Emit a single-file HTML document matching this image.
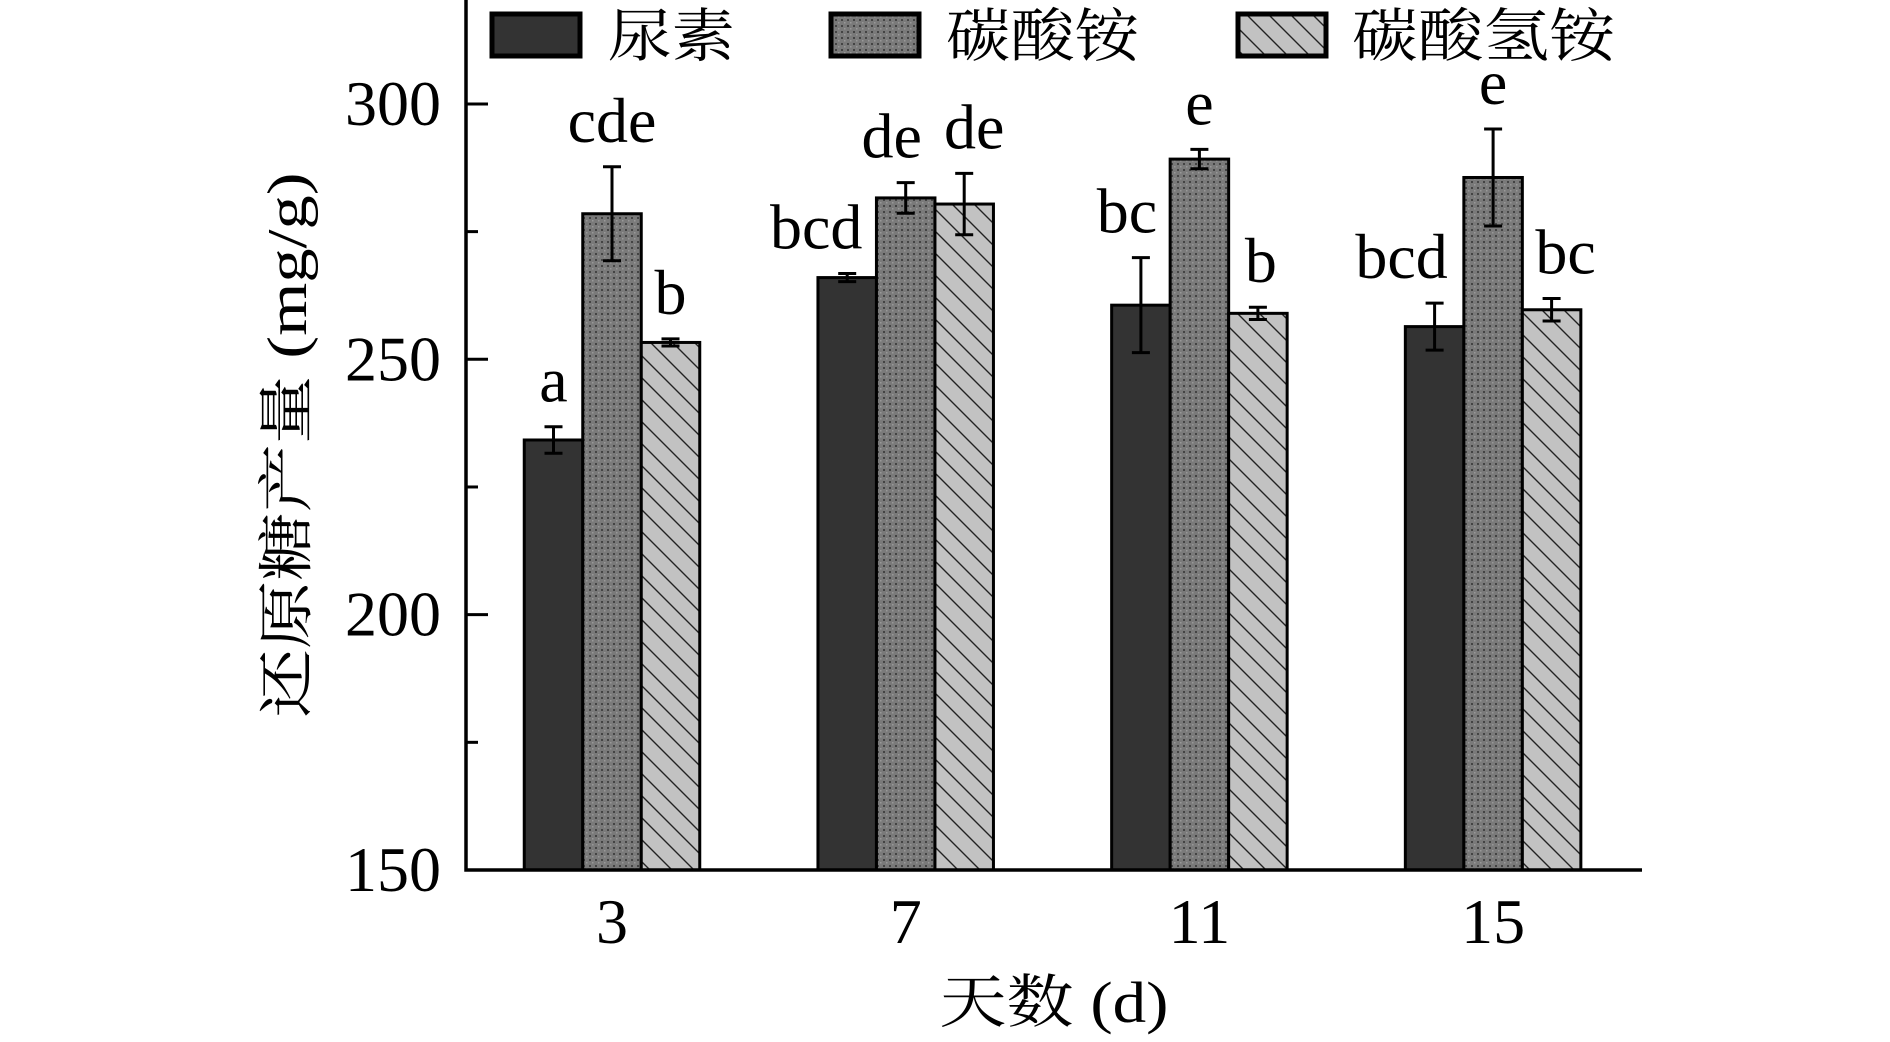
<!DOCTYPE html>
<html><head><meta charset="utf-8">
<style>
html,body{margin:0;padding:0;background:#fff;}
svg{display:block;}
text{font-family:"Liberation Serif","Noto Serif CJK SC","Noto Sans CJK SC",serif;fill:#000;}
</style></head>
<body>
<svg id="chart" width="1890" height="1042" viewBox="0 0 1890 1042" xmlns="http://www.w3.org/2000/svg">
<defs>
<pattern id="dots" width="6" height="6" patternUnits="userSpaceOnUse">
<rect width="6" height="6" fill="#7a7a7a"/>
<rect x="1" y="1" width="2" height="2" fill="#444"/>
<rect x="4" y="4" width="1.5" height="1.5" fill="#999"/>
</pattern>
<pattern id="hatch" width="22" height="22" patternUnits="userSpaceOnUse">
<rect width="22" height="22" fill="#c2c2c2"/>
<path d="M0,0 L22,22 M-11,11 L11,33 M11,-11 L33,11" stroke="#222" stroke-width="1.4"/>
</pattern>
</defs>
<g id="plot"></g>
</svg>
<script>
const categories = ["3","7","11","15"];
const seriesNames = ["尿素","碳酸铵","碳酸氢铵"];
const ureaValues = [234.2, 266.0, 260.6, 256.4];
const carbonateValues = [278.5, 281.6, 289.2, 285.6];
const bicarbValues = [253.3, 280.4, 259.0, 259.7];
const ureaErrors = [2.6, 0.8, 9.3, 4.6];
const carbonateErrors = [9.2, 3.0, 1.9, 9.5];
const bicarbErrors = [0.7, 6.0, 1.2, 2.2];
const ureaLetters = ["a","bcd","bc","bcd"];
const carbonateLetters = ["cde","de","e","e"];
const bicarbLetters = ["b","de","b","bc"];
const yTicks = [150, 200, 250, 300];
const yMinorTicks = [175, 225, 275];

const NS = "http://www.w3.org/2000/svg";
const g = document.getElementById("plot");
const X0 = 466, X1 = 1642, YB = 870, YMIN = 150, PPU = 5.107;
const groupStart = 612, groupStep = 293.7, barW = 58.5;
// label layout nudges (px) per series/category
const letterOffsets = [[0,-31,-14,-33],[0,-14,0,0],[0,10,3,14]];
function yScale(v){ return YB - (v - YMIN) * PPU; }
function xCenter(i){ return groupStart + i * groupStep; }
function mk(tag, attrs){ const e = document.createElementNS(NS, tag); for (const k in attrs) e.setAttribute(k, attrs[k]); g.appendChild(e); return e; }

const fills = ["#333333", "url(#dots)", "url(#hatch)"];
const vals = [ureaValues, carbonateValues, bicarbValues];
const errs = [ureaErrors, carbonateErrors, bicarbErrors];
const lets = [ureaLetters, carbonateLetters, bicarbLetters];
const sKeys = ["urea","carbonate","bicarbonate"];

categories.forEach((c, i) => {
  for (let s = 0; s < 3; s++) {
    const v = vals[s][i], e = errs[s][i];
    const bx = xCenter(i) + (s - 1.5) * barW;
    const r = mk("rect", {x: bx, y: yScale(v), width: barW, height: YB - yScale(v), fill: fills[s], stroke: "#000", "stroke-width": 3});
    
    
    const cx = bx + barW / 2;
    const eb = mk("path", {d: `M${cx-9},${yScale(v+e)} H${cx+9} M${cx},${yScale(v+e)} V${yScale(v-e)} M${cx-9},${yScale(v-e)} H${cx+9}`, stroke: "#000", "stroke-width": 3, fill: "none"});
    
    
    const t = mk("text", {x: cx + letterOffsets[s][i], y: yScale(v+e) - 25, "text-anchor": "middle", "font-size": 64});
    t.textContent = lets[s][i];
    
    
  }
  const xl = mk("text", {x: xCenter(i), y: 943, "text-anchor": "middle", "font-size": 64});
  xl.textContent = c;
  
  
});

const axes = mk("path", {d: `M${X0},0 V${YB} H${X1}`, stroke: "#000", "stroke-width": 3.5, fill: "none"});


yTicks.forEach(v => {
  const tk = mk("line", {x1: X0, x2: X0 + 22, y1: yScale(v), y2: yScale(v), stroke: "#000", "stroke-width": 3});
  
  
  const tl = mk("text", {x: 441, y: yScale(v) + 21, "text-anchor": "end", "font-size": 64});
  tl.textContent = v;
  
  
});
yMinorTicks.forEach(v => {
  const tk = mk("line", {x1: X0, x2: X0 + 12, y1: yScale(v), y2: yScale(v), stroke: "#000", "stroke-width": 3});
  
  
});

const legendBoxX = [492, 831, 1238];
const legendTextX = [608, 946, 1352];
const legendTextW = [127, 193, 263];
seriesNames.forEach((n, s) => {
  const b = mk("rect", {x: legendBoxX[s], y: 14, width: 88, height: 42, fill: fills[s], stroke: "#000", "stroke-width": 5});
  
  
  const t = mk("text", {x: legendTextX[s], y: 56, "font-size": 58, textLength: legendTextW[s], lengthAdjust: "spacingAndGlyphs"});
  t.textContent = n;
  
  
});

const yt = mk("text", {x: 0, y: 0, "text-anchor": "middle", "font-size": 56, transform: "translate(306,445) rotate(-90)", textLength: 545, lengthAdjust: "spacingAndGlyphs"});
yt.textContent = "还原糖产量 (mg/g)";


const xt = mk("text", {x: 1054, y: 1022, "text-anchor": "middle", "font-size": 58, textLength: 229, lengthAdjust: "spacingAndGlyphs"});
xt.textContent = "天数 (d)";


</script>
</body></html>
